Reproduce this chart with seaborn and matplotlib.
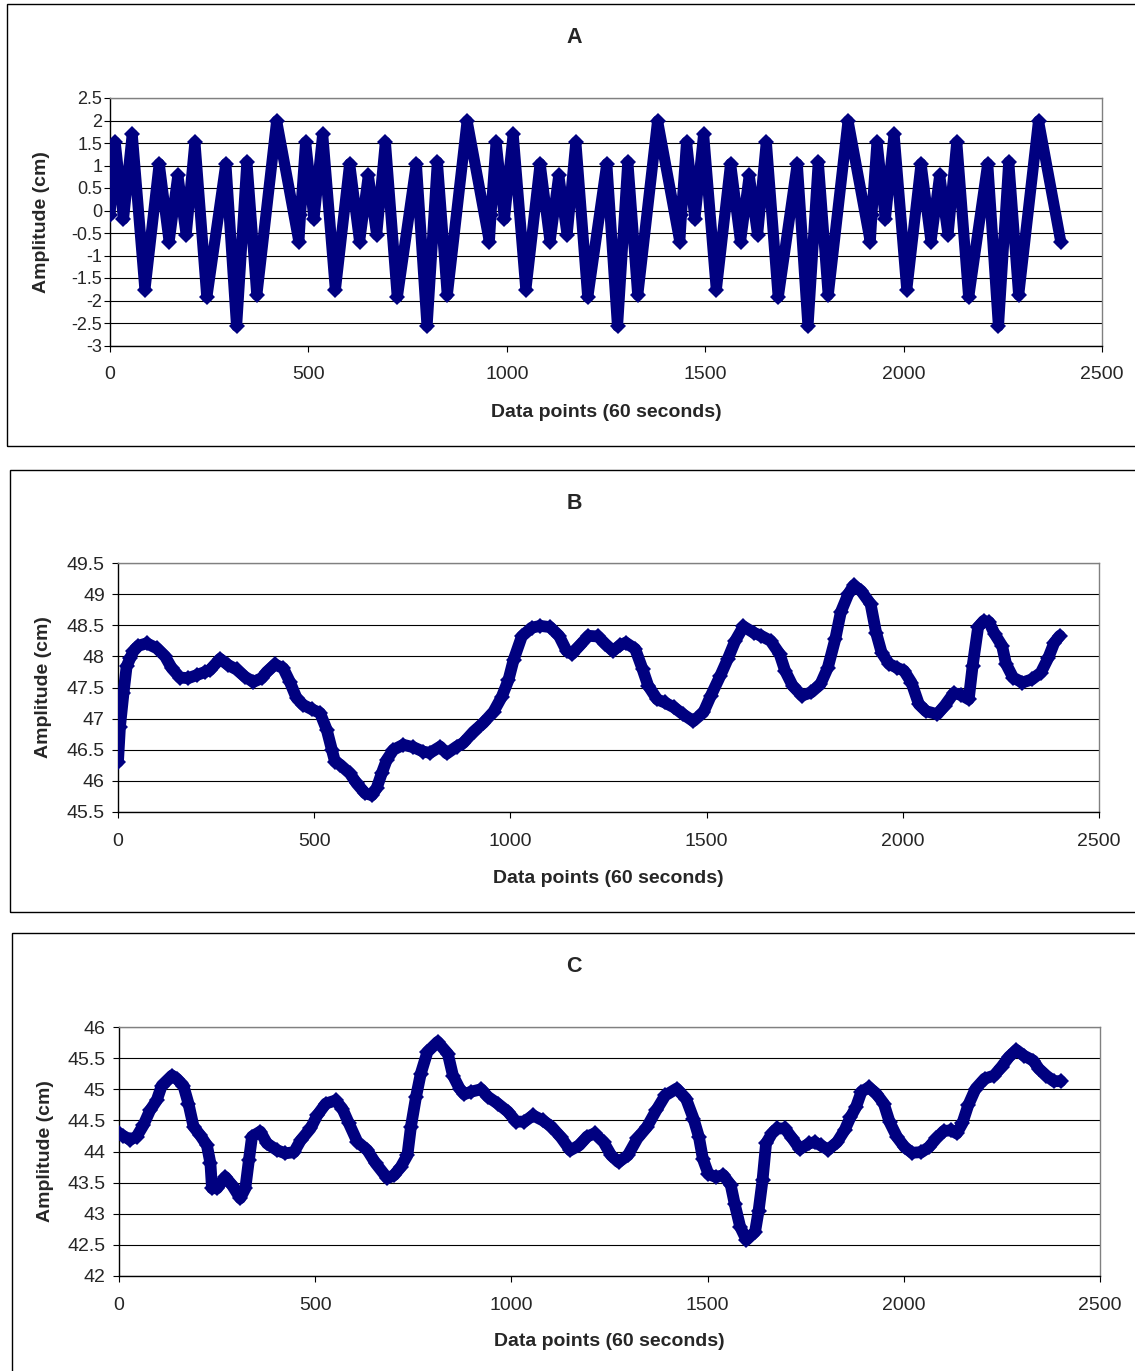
import numpy as np
import pandas as pd
import matplotlib
matplotlib.use('Agg')
import matplotlib.pyplot as plt
import matplotlib.ticker as mtick
from matplotlib.patches import Rectangle
import seaborn as sns

# ---- data ----
# Panel A: the same 480-point pattern repeats five times
A_cycle_x = [0, 13, 34, 56, 88, 124, 149, 171, 192, 214, 244, 292, 319,
             345, 370, 420, 476]
A_cycle_y = [-0.10, 1.52, -0.19, 1.69, -1.76, 1.04, -0.69, 0.78, -0.54,
             1.52, -1.93, 1.04, -2.57, 1.08, -1.88, 1.99, -0.69]
A_period = 480
A_cycles = 5

B_x = [0, 5, 14, 22, 31, 39, 52, 73, 99, 120,
       137, 158, 179, 201, 222, 234, 260, 281, 302, 324,
       345, 366, 379, 400, 421, 438, 455, 472, 494, 515,
       532, 545, 553, 566, 591, 608, 630, 647, 659, 672,
       685, 702, 727, 753, 778, 795, 821, 838, 863, 880,
       906, 931, 957, 978, 995, 1008, 1029, 1054, 1076, 1101,
       1124, 1143, 1157, 1176, 1199, 1223, 1242, 1261, 1280, 1294,
       1318, 1337, 1351, 1374, 1393, 1417, 1440, 1466, 1492, 1511,
       1535, 1554, 1573, 1594, 1620, 1639, 1663, 1686, 1700, 1719,
       1743, 1766, 1790, 1809, 1828, 1842, 1861, 1875, 1894, 1918,
       1932, 1946, 1965, 1984, 2003, 2022, 2041, 2059, 2088, 2107,
       2130, 2149, 2168, 2178, 2192, 2206, 2220, 2234, 2253, 2263,
       2281, 2305, 2329, 2352, 2371, 2386, 2400]
B_y = [46.31, 46.87, 47.41, 47.84, 47.97, 48.08, 48.17, 48.21, 48.13, 48.00,
       47.81, 47.66, 47.65, 47.70, 47.75, 47.78, 47.96, 47.86, 47.79, 47.67,
       47.59, 47.65, 47.75, 47.87, 47.81, 47.59, 47.33, 47.22, 47.15, 47.09,
       46.82, 46.50, 46.31, 46.26, 46.12, 45.96, 45.80, 45.77, 45.88, 46.12,
       46.34, 46.50, 46.58, 46.54, 46.47, 46.45, 46.55, 46.44, 46.55, 46.61,
       46.79, 46.93, 47.11, 47.35, 47.62, 47.94, 48.32, 48.46, 48.49, 48.47,
       48.33, 48.09, 48.04, 48.17, 48.33, 48.32, 48.20, 48.09, 48.18, 48.22,
       48.12, 47.79, 47.53, 47.31, 47.26, 47.18, 47.07, 46.96, 47.10, 47.37,
       47.69, 47.96, 48.25, 48.48, 48.38, 48.33, 48.25, 48.04, 47.77, 47.53,
       47.37, 47.42, 47.55, 47.82, 48.28, 48.71, 49.00, 49.14, 49.05, 48.84,
       48.38, 48.06, 47.88, 47.82, 47.77, 47.58, 47.23, 47.12, 47.07, 47.21,
       47.41, 47.38, 47.31, 47.85, 48.47, 48.57, 48.55, 48.36, 48.17, 47.88,
       47.66, 47.58, 47.63, 47.74, 47.98, 48.22, 48.33]

C_x = [0, 11, 28, 45, 62, 79, 96, 109, 122, 135,
       147, 164, 177, 190, 207, 224, 233, 237, 250, 271,
       288, 309, 322, 331, 339, 360, 377, 403, 424, 446,
       463, 488, 505, 527, 552, 569, 586, 607, 633, 654,
       684, 701, 718, 735, 744, 757, 769, 786, 812, 838,
       851, 868, 880, 897, 923, 940, 965, 991, 1012, 1033,
       1055, 1080, 1102, 1126, 1150, 1173, 1193, 1212, 1235, 1254,
       1273, 1297, 1321, 1345, 1369, 1392, 1421, 1445, 1464, 1478,
       1488, 1502, 1521, 1540, 1559, 1569, 1583, 1599, 1621, 1630,
       1640, 1649, 1664, 1678, 1697, 1716, 1735, 1759, 1773, 1788,
       1807, 1830, 1849, 1864, 1878, 1892, 1911, 1930, 1949, 1964,
       1983, 2002, 2021, 2045, 2064, 2083, 2102, 2121, 2135, 2149,
       2164, 2183, 2206, 2230, 2249, 2268, 2287, 2306, 2330, 2344,
       2363, 2382, 2400]
C_y = [44.29, 44.25, 44.19, 44.24, 44.42, 44.66, 44.82, 45.06, 45.14, 45.22,
       45.17, 45.06, 44.77, 44.40, 44.26, 44.10, 43.81, 43.41, 43.41, 43.59,
       43.46, 43.25, 43.41, 43.86, 44.24, 44.32, 44.13, 44.02, 43.97, 43.99,
       44.18, 44.37, 44.58, 44.77, 44.82, 44.69, 44.45, 44.16, 44.02, 43.81,
       43.57, 43.62, 43.75, 43.94, 44.40, 44.88, 45.25, 45.60, 45.76, 45.57,
       45.22, 45.01, 44.92, 44.96, 45.00, 44.88, 44.77, 44.64, 44.48, 44.48,
       44.58, 44.50, 44.40, 44.23, 44.02, 44.10, 44.24, 44.29, 44.15, 43.94,
       43.83, 43.94, 44.21, 44.39, 44.66, 44.90, 45.01, 44.85, 44.53, 44.23,
       43.88, 43.64, 43.59, 43.62, 43.46, 43.16, 42.79, 42.58, 42.71, 43.05,
       43.54, 44.13, 44.29, 44.37, 44.37, 44.21, 44.04, 44.13, 44.15, 44.10,
       44.03, 44.15, 44.34, 44.55, 44.71, 44.96, 45.03, 44.93, 44.77, 44.47,
       44.23, 44.07, 43.98, 43.99, 44.07, 44.21, 44.33, 44.34, 44.29, 44.45,
       44.74, 45.01, 45.17, 45.22, 45.36, 45.52, 45.63, 45.54, 45.46, 45.33,
       45.22, 45.13, 45.13]

titles = ['A', 'B', 'C']
x_label = 'Data points (60 seconds)'
y_label = 'Amplitude (cm)'
x_ticks = [0, 500, 1000, 1500, 2000, 2500]

a_x = np.concatenate([np.array(A_cycle_x) + A_period * k for k in range(A_cycles)])
a_y = np.tile(A_cycle_y, A_cycles)

frames = [pd.DataFrame({'x': a_x, 'y': a_y}),
          pd.DataFrame({'x': B_x, 'y': B_y}),
          pd.DataFrame({'x': C_x, 'y': C_y})]

# ---- plot ----
sns.set_style('white')
plt.rcParams['font.family'] = ['Liberation Sans', 'DejaVu Sans']

W, H = 1135, 1371
fig = plt.figure(figsize=(W / 100, H / 100), dpi=100)
navy = '#000080'

# pixel layout: plot area (l, t, r, b), outer box, title baseline, xlabel baseline
layout = [
    dict(area=(110, 98, 1102, 345.5), box=(7, 4, 1140, 446), ylim=(-3, 2.5),
         title_base=43, xlab_base=417, ylab_right=50, ysize=13, ypad=1, lw=8),
    dict(area=(118, 563, 1099, 812), box=(10, 470, 1140, 912), ylim=(45.5, 49.5),
         title_base=509, xlab_base=883, ylab_right=52, ysize=14, ypad=5, lw=8.5),
    dict(area=(119, 1027, 1100, 1276), box=(12, 933, 1140, 1380), ylim=(42, 46),
         title_base=972, xlab_base=1346, ylab_right=54, ysize=14, ypad=5, lw=8.5),
]

fmt = mtick.FuncFormatter(lambda v, p: f'{v:g}')

for df, title, lay in zip(frames, titles, layout):
    l, t, r, b = lay['area']
    ax = fig.add_axes([l / W, 1 - b / H, (r - l) / W, (b - t) / H])

    bl, bt, br, bb = lay['box']
    fig.add_artist(Rectangle((bl / W, 1 - bb / H), (br - bl) / W, (bb - bt) / H,
                             transform=fig.transFigure, fill=False,
                             edgecolor='black', linewidth=1, zorder=0))

    sns.lineplot(data=df, x='x', y='y', ax=ax, sort=False, color=navy,
                 linewidth=lay['lw'], marker='D', markersize=lay['lw'],
                 markeredgewidth=0, zorder=3)
    for ln in ax.lines:
        ln.set_linewidth(lay['lw'])
        ln.set_solid_joinstyle('round')
        ln.set_solid_capstyle('round')

    lo, hi = lay['ylim']
    ax.set_xlim(0, 2500)
    ax.set_ylim(lo, hi)
    ax.set_xticks(x_ticks)
    ax.set_yticks(np.arange(lo, hi + 0.01, 0.5))
    ax.yaxis.set_major_formatter(fmt)
    ax.grid(axis='y', color='black', linewidth=0.8)
    ax.grid(axis='x', visible=False)
    ax.set_axisbelow(True)

    for side in ['left', 'bottom']:
        ax.spines[side].set_color('black')
        ax.spines[side].set_linewidth(1)
    for side in ['top', 'right']:
        ax.spines[side].set_color('#808080')
        ax.spines[side].set_linewidth(1)
        ax.spines[side].set_visible(True)

    ax.tick_params(axis='x', direction='out', length=4.5, width=0.8,
                   color='black', labelsize=14, pad=10.5, bottom=True)
    ax.tick_params(axis='y', direction='out', length=4.5, width=0.8,
                   color='black', labelsize=lay['ysize'], pad=lay['ypad'],
                   left=True)

    ax.set_xlabel(x_label, fontsize=14, fontweight='bold', va='baseline')
    ax.xaxis.set_label_coords(0.5, (b - lay['xlab_base']) / (b - t))
    ax.set_ylabel(y_label, fontsize=14, fontweight='bold')
    ax.yaxis.set_label_coords((lay['ylab_right'] - l) / (r - l), 0.5)

    fig.text(574 / W, 1 - lay['title_base'] / H, title, ha='center',
             va='baseline', fontsize=15.5, fontweight='bold')

fig.savefig('out.png', dpi=100)
